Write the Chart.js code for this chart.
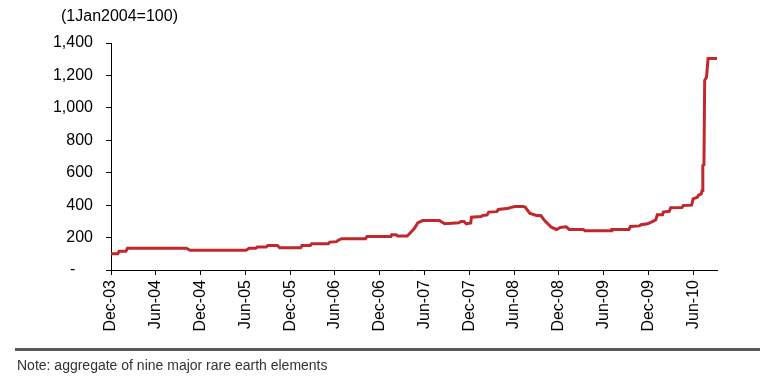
<!DOCTYPE html>
<html>
<head>
<meta charset="utf-8">
<script src="https://cdn.jsdelivr.net/npm/chart.js@4/dist/chart.umd.min.js"></script>
<style>
  body { margin: 0; background: #fff; }
  #wrap { position: relative; width: 775px; height: 377px; font-family: "Liberation Sans", Arial, sans-serif; }
  #unit { position: absolute; left: 61px; top: 7px; font-size: 16px; line-height: 18px; color: #000; }
  #rule { position: absolute; left: 15px; top: 348px; width: 745px; height: 3px; background: #595959; }
  #note { position: absolute; left: 17px; top: 357px; font-size: 14px; line-height: 17px; color: #333; }
</style>
</head>
<body>
<div id="wrap">
  <canvas id="chart" width="775" height="377"></canvas>
  <div id="unit">(1Jan2004=100)</div>
  <div id="rule"></div>
  <div id="note">Note: aggregate of nine major rare earth elements</div>
</div>
<script>
// tick labels, one every 6 months starting Dec-03
const tickLabels = ["Dec-03", "Jun-04", "Dec-04", "Jun-05", "Dec-05", "Jun-06", "Dec-06",
  "Jun-07", "Dec-07", "Jun-08", "Dec-08", "Jun-09", "Dec-09", "Jun-10"];

// months since Dec-03
const months = [0, 0.9, 1.1, 2.0, 2.2, 10.1, 10.6, 18.1, 18.5, 19.4, 19.6, 20.8, 21.0, 22.3, 22.6,
  25.4, 25.6, 26.7, 26.9, 29.1, 29.3, 30.2, 30.4, 30.9, 34.1, 34.3, 37.5, 37.6, 38.2, 38.4,
  39.7, 40.4, 40.7, 41.1, 41.75, 44.0, 44.7, 46.6, 46.9, 47.3, 47.6, 48.2, 48.3, 49.6, 49.8,
  50.4, 50.6, 51.7, 51.9, 53.3, 53.5, 54.1, 55.2, 55.5, 56.1, 57.0, 57.6, 58.1, 59.0, 59.7,
  60.2, 61.0, 61.4, 63.3, 63.5, 67.0, 67.1, 69.4, 69.6, 70.8, 71.0, 71.9, 72.6, 73.0, 73.2,
  73.9, 74.0, 74.8, 75.0, 76.5, 76.7, 77.8, 78.0, 78.6, 78.7, 79.1, 79.2, 79.3, 79.45, 79.55,
  79.8, 80.0, 81.2];

// price index (1Jan2004=100)
const priceIndex = [100, 100, 115, 115, 134, 134, 122, 122, 134, 134, 142, 142, 151, 151, 137,
  137, 151, 151, 162, 162, 172, 175, 182, 193, 193, 207, 207, 217, 217, 209,
  209, 244, 260, 290, 305, 305, 285, 291, 299, 299, 285, 290, 326, 330, 336,
  340, 357, 360, 373, 381, 385, 392, 392, 388, 350, 336, 336, 305, 264, 250,
  262, 266, 250, 250, 242, 242, 250, 250, 268, 272, 279, 285, 300, 310, 341,
  341, 357, 362, 384, 386, 398, 400, 439, 450, 460, 470, 490, 645, 650, 1170,
  1190, 1304, 1304];

const yTicks = [0, 200, 400, 600, 800, 1000, 1200, 1400];

const points = months.map((m, i) => ({ x: m, y: priceIndex[i] }));

Chart.defaults.font.family = '"Liberation Sans", Arial, sans-serif';
Chart.defaults.font.size = 16;
Chart.defaults.color = "#000";

const ctx = document.getElementById("chart");
const chart = new Chart(ctx, {
  type: "line",
  data: {
    datasets: [{
      data: points,
      borderColor: "rgb(192, 40, 45)",
      borderWidth: 3,
      borderCapStyle: "round",
      pointRadius: 0,
      tension: 0,
    }],
  },
  options: {
    responsive: false,
    animation: false,
    devicePixelRatio: 1,
    layout: { padding: { left: 0, right: 58, top: 43, bottom: 0 } },
    plugins: { legend: { display: false }, tooltip: { enabled: false } },
    scales: {
      x: {
        type: "linear",
        min: 0,
        max: 81.2,
        afterBuildTicks: (scale) => {
          scale.ticks = tickLabels.map((l, i) => ({ value: i * 6 }));
        },
        afterFit: (scale) => { scale.height = 107; },
        grid: { drawOnChartArea: false, drawTicks: true, tickLength: 5, color: "#000" },
        border: { display: true, color: "#000", width: 1 },
        ticks: {
          autoSkip: false,
          minRotation: 90,
          maxRotation: 90,
          padding: 5,
          callback: (v) => tickLabels[Math.round(v / 6)] ?? "",
        },
      },
      y: {
        min: 0,
        max: 1400,
        afterBuildTicks: (scale) => {
          scale.ticks = yTicks.map((v) => ({ value: v }));
        },
        afterFit: (scale) => { scale.width = 111; },
        grid: { drawOnChartArea: false, drawTicks: true, tickLength: 5, color: "#000" },
        border: { display: true, color: "#000", width: 1 },
        ticks: {
          padding: 13,
          callback: (v) => (v === 0 ? "-    " : v.toLocaleString("en-US")),
        },
      },
    },
  },
});
</script>
</body>
</html>
